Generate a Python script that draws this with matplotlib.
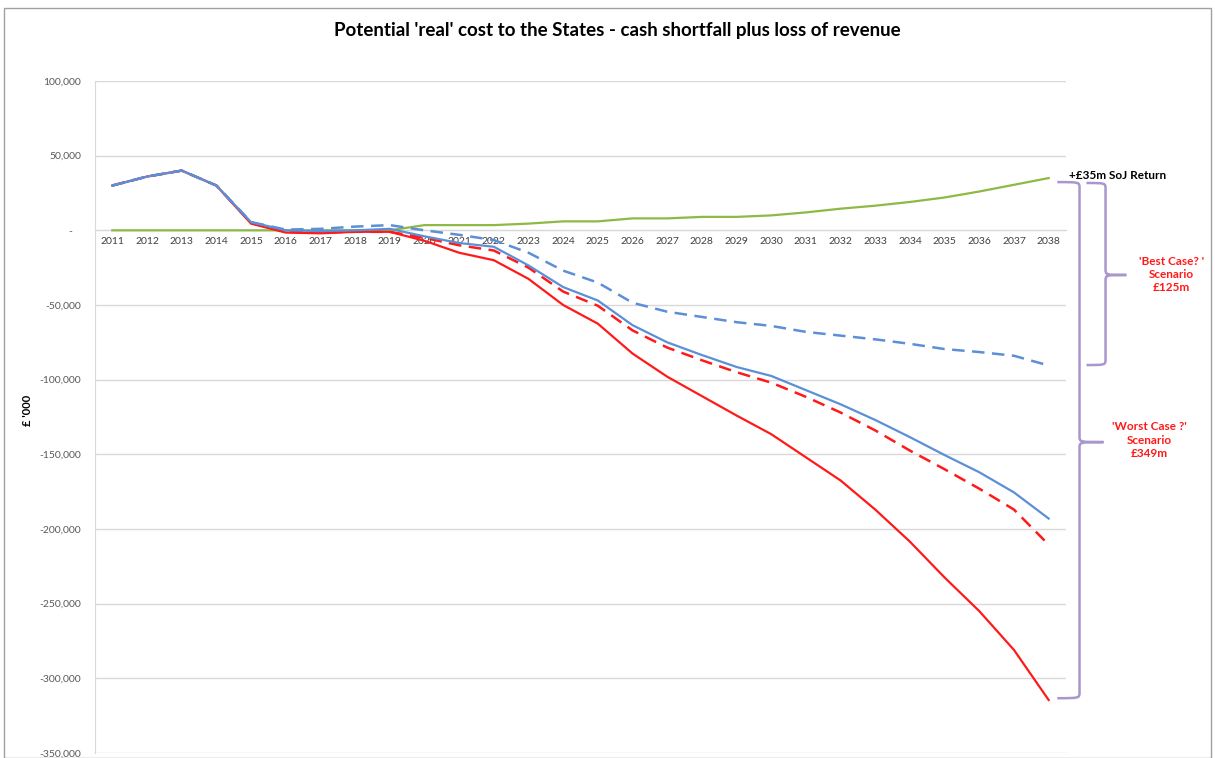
import matplotlib
matplotlib.use("Agg")
import matplotlib.pyplot as plt
from matplotlib.path import Path
from matplotlib.patches import PathPatch, Rectangle
from matplotlib.ticker import FuncFormatter

plt.rcParams['font.family'] = ['Lato', 'DejaVu Sans']

years = [str(y) for y in range(2011, 2039)]

blue_solid = [30000, 36000, 40000, 30000, 5500, 0, -500, 0, 1000, -4000,
              -8500, -11000, -23500, -38000, -47000, -63500, -75000, -83500,
              -91500, -97500, -107000, -116500, -127000, -138500, -150500,
              -162000, -175500, -193000]
blue_dashed = [30000, 36000, 40000, 30000, 5500, 500, 1000, 2500, 3500, 0,
               -3000, -6500, -15000, -27000, -35000, -48500, -54500, -58000,
               -61500, -64000, -68000, -70500, -73000, -76000, -79500,
               -81500, -84000, -90500]
red_solid = [30000, 36000, 40000, 30000, 4500, -1500, -2000, -1000, -1000, -7000,
             -15000, -20000, -32500, -50000, -62500, -82500, -98000, -111000,
             -124000, -136500, -152000, -167500, -187000, -208500, -232500,
             -255000, -281000, -314500]
red_dashed = [30000, 36000, 40000, 30000, 5000, -1000, -1500, -1000, -1000, -5000,
              -10000, -13500, -25000, -41000, -50500, -67000, -78500, -87000,
              -95000, -102000, -111500, -122000, -134000, -147500, -160000,
              -173000, -187000, -210500]
green = [0, 0, 0, 0, 0, 0, 0, 0, 0, 3500, 3500, 3500, 4500, 6000, 6000, 8000,
         8000, 9000, 9000, 10000, 12000, 14500, 16500, 19000, 22000, 26000,
         30500, 35000]

yticks = list(range(-350000, 100001, 50000))

BLUE = '#5B8FD6'
RED = '#FF1A1A'
GREEN = '#8DB944'
PURPLE = '#A996CC'

fig = plt.figure(figsize=(12.15, 7.58), dpi=100)
ax = fig.add_axes([95/1215, 5/758, 971/1215, 672/758])

x = list(range(len(years)))
ax.plot(x, green, color=GREEN, lw=1.6, zorder=3)
ax.plot(x, red_solid, color=RED, lw=1.6, zorder=4)
ax.plot(x, red_dashed, color=RED, lw=1.8, ls=(0, (5, 3)), zorder=4)
ax.plot(x, blue_solid, color=BLUE, lw=1.6, zorder=5)
ax.plot(x, blue_dashed, color=BLUE, lw=1.8, ls=(0, (5, 3)), zorder=5)

ax.set_xlim(-0.5, len(years) - 0.5)
ax.set_ylim(-350000, 100000)
ax.set_yticks(yticks)
ax.yaxis.set_major_formatter(FuncFormatter(lambda v, p: '-   ' if v == 0 else f'{int(v):,}'))
ax.grid(axis='y', color='#D9D9D9', lw=1.0)
ax.set_axisbelow(True)
ax.set_xticks(x)
ax.set_xticklabels(years)
ax.spines['bottom'].set_position(('data', 0))
ax.spines['bottom'].set_color('#D9D9D9')
ax.spines['top'].set_visible(False)
ax.spines['right'].set_visible(False)
ax.spines['left'].set_color('#D9D9D9')
ax.tick_params(axis='x', length=0, pad=5, labelsize=7.5, labelcolor='#404040')
ax.tick_params(axis='y', length=0, pad=10, labelsize=7.5, labelcolor='#595959')
ax.set_ylabel("£ '000", fontsize=8, fontweight='bold')
ax.yaxis.set_label_coords(-0.064, 0.51)

fig.text(0.508, 0.960, "Potential 'real' cost to the States - cash shortfall plus loss of revenue",
         ha='center', va='center', fontsize=13.5, fontweight='bold')


def brace(ax, x0, xv, xt, ytop, ymid, ybot, r_y):
    """Right-facing curly brace in data coords."""
    verts = [
        (x0, ytop),
        (xv, ytop), (xv, ytop), (xv, ytop - r_y),
        (xv, ymid + r_y),
        (xv, ymid), (xv, ymid), (xt, ymid),
        (xv, ymid), (xv, ymid), (xv, ymid - r_y),
        (xv, ybot + r_y),
        (xv, ybot), (xv, ybot), (x0, ybot),
    ]
    codes = [Path.MOVETO,
             Path.CURVE4, Path.CURVE4, Path.CURVE4,
             Path.LINETO,
             Path.CURVE4, Path.CURVE4, Path.CURVE4,
             Path.CURVE4, Path.CURVE4, Path.CURVE4,
             Path.LINETO,
             Path.CURVE4, Path.CURVE4, Path.CURVE4]
    p = PathPatch(Path(verts, codes), fill=False, edgecolor=PURPLE, lw=1.8,
                  clip_on=False, zorder=6)
    ax.add_patch(p)


# big brace (worst case)
brace(ax, 27.25, 27.89, 28.58, 32300, -141800, -313300, 4000)
# small brace (best case)
brace(ax, 28.09, 28.64, 29.24, 31700, -29900, -90200, 4000)

ax.text(27.6, 36500, "+£35m SoJ Return", fontsize=8.5, fontweight='bold',
        ha='left', va='center', clip_on=False)
ax.text(30.55, -29500, "'Best Case? '\nScenario\n£125m", color=RED, fontsize=8.5,
        fontweight='bold', ha='center', va='center', linespacing=1.25, clip_on=False)
ax.text(29.9, -140500, "'Worst Case ?'\nScenario\n£349m", color=RED, fontsize=8.5,
        fontweight='bold', ha='center', va='center', linespacing=1.25, clip_on=False)

fig.add_artist(Rectangle((4/1215, 0), 1 - 8/1215, 1 - 8/758, transform=fig.transFigure,
                         fill=False, edgecolor='#A0A0A0', lw=1.0))

fig.savefig('out.png', dpi=100)
